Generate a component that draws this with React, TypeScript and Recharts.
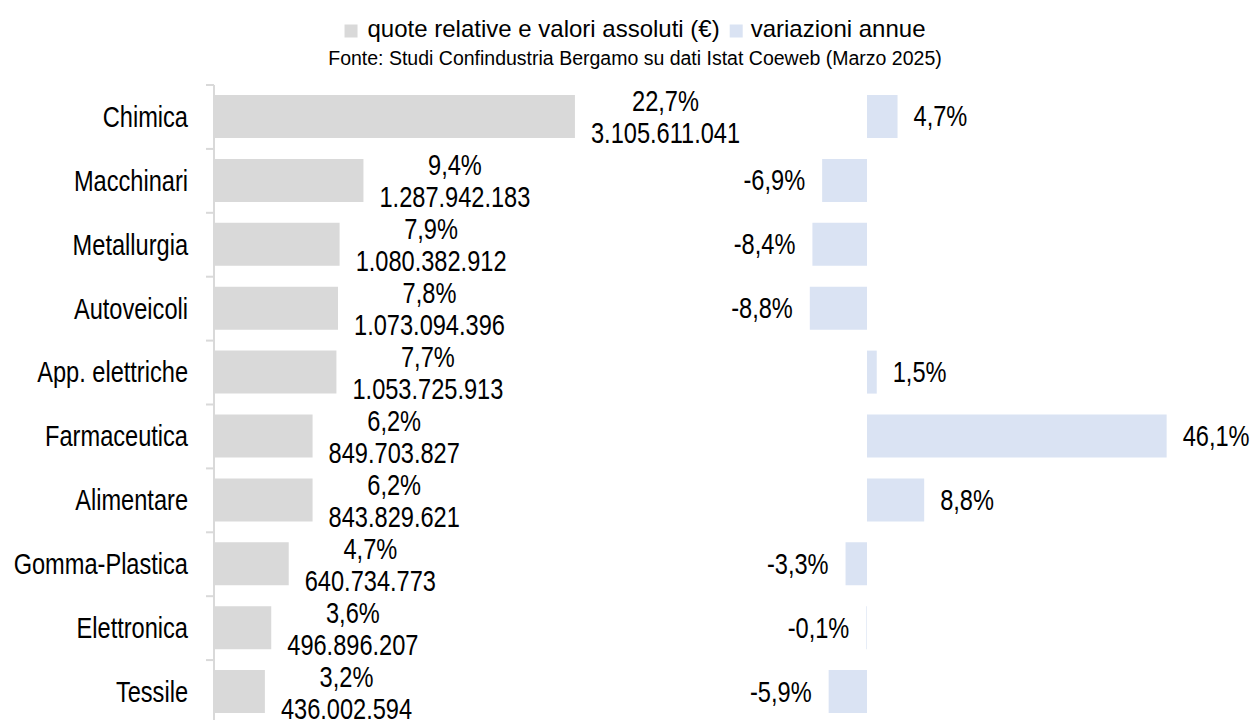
import React from 'react';
import { BarChart, Bar, XAxis, YAxis, LabelList } from 'recharts';

// settori e valori (export Bergamo)
const categories = [
  'Chimica', 'Macchinari', 'Metallurgia', 'Autoveicoli', 'App. elettriche',
  'Farmaceutica', 'Alimentare', 'Gomma-Plastica', 'Elettronica', 'Tessile',
];
const quote = [22.7, 9.4, 7.9, 7.8, 7.7, 6.2, 6.2, 4.7, 3.6, 3.2];
const valori = [
  3105611041, 1287942183, 1080382912, 1073094396, 1053725913,
  849703827, 843829621, 640734773, 496896207, 436002594,
];
const variazioni = [4.7, -6.9, -8.4, -8.8, 1.5, 46.1, 8.8, -3.3, -0.1, -5.9];
const seriesNames = ['quote relative e valori assoluti (€)', 'variazioni annue'];
const source = 'Fonte: Studi Confindustria Bergamo su dati Istat Coeweb (Marzo 2025)';

// no Arial Narrow available: Liberation Sans squeezed horizontally
const FONT = '"Liberation Sans", Arial, sans-serif';
const NARROW = 0.8;
const FS = 29.5;
const GREY = '#d9d9d9';
const BLUE = '#dae3f3';
const W = 1253;
const H = 730;
const MARGIN_TOP = 85;
const MARGIN_BOTTOM = 6;
const HALF_BAND = (H - MARGIN_TOP - MARGIN_BOTTOM) / categories.length / 2;
const HEAD_CX = 635;

const fmtPct = (v: number) => v.toFixed(1).replace('.', ',') + '%';
const fmtInt = (v: number) => String(v).replace(/\B(?=(\d{3})+(?!\d))/g, '.');

const data = categories.map((c, i) => ({
  name: c,
  quota: quote[i],
  variazione: variazioni[i],
  label: fmtPct(quote[i]) + '|' + fmtInt(valori[i]),
}));

let ctx: CanvasRenderingContext2D | null = null;
const measure = (t: string, size: number, k = 1) => {
  if (!ctx) ctx = document.createElement('canvas').getContext('2d');
  if (!ctx) return t.length * size * 0.5 * k;
  ctx.font = `${size}px ${FONT}`;
  return ctx.measureText(t).width * k;
};

const NText = ({ x, y, anchor, children }: any) => (
  <text
    transform={`translate(${x},${y}) scale(${NARROW},1)`}
    textAnchor={anchor}
    dominantBaseline="central"
    fontSize={FS}
    fill="#000"
  >
    {children}
  </text>
);

const CategoryTick = (props: any) => {
  const { x, y, payload } = props;
  return (
    <g>
      <line x1={x + 18} x2={x + 26} y1={y - HALF_BAND} y2={y - HALF_BAND} stroke={GREY} strokeWidth={2} />
      <NText x={x} y={y} anchor="end">{payload.value}</NText>
    </g>
  );
};

const QuotaLabel = (props: any) => {
  const { x, y, width, height, value } = props;
  const [pct, abs] = String(value).split('|');
  const cy = y + height / 2;
  const cx = x + width + 16 + measure(abs, FS, NARROW) / 2;
  return (
    <g>
      <NText x={cx} y={cy - 15} anchor="middle">{pct}</NText>
      <NText x={cx} y={cy + 17} anchor="middle">{abs}</NText>
    </g>
  );
};

const VarLabel = (props: any) => {
  const { x, y, width, height, value } = props;
  const left = Math.min(x, x + width);
  const right = Math.max(x, x + width);
  const neg = value < 0;
  return (
    <NText x={neg ? left - 17 : right + 16} y={y + height / 2} anchor={neg ? 'end' : 'start'}>
      {fmtPct(value)}
    </NText>
  );
};

function Header() {
  const lfs = 24;
  const sq = 13;
  const w1 = measure(seriesNames[0], lfs);
  const w2 = measure(seriesNames[1], lfs);
  const total = sq + 10 + w1 + 10 + sq + 8 + w2;
  const x0 = HEAD_CX - total / 2;
  const x1 = x0 + sq + 10;
  const x2 = x1 + w1 + 10;
  const x3 = x2 + sq + 8;
  return (
    <svg width={W} height={80} style={{ position: 'absolute', top: 0, left: 0 }}>
      <rect x={x0} y={24.5} width={sq} height={sq} fill={GREY} />
      <text x={x1} y={37} fontSize={lfs} fill="#000">{seriesNames[0]}</text>
      <rect x={x2} y={24.5} width={sq} height={sq} fill={BLUE} />
      <text x={x3} y={37} fontSize={lfs} fill="#000">{seriesNames[1]}</text>
      <text x={HEAD_CX} y={65} fontSize={19.5} textAnchor="middle" fill="#000">{source}</text>
    </svg>
  );
}

export default function App() {
  return (
    <div style={{ position: 'absolute', top: 0, left: 0, width: W, height: 720, overflow: 'hidden', background: '#fff', fontFamily: FONT }}>
      <Header />

      <div style={{ position: 'absolute', top: 0, left: 0 }}>
        <BarChart width={W} height={H} data={data} layout="vertical"
          margin={{ top: MARGIN_TOP, right: W - 850, bottom: MARGIN_BOTTOM, left: 0 }}>
          <XAxis type="number" domain={[0, 40]} hide />
          <YAxis type="category" dataKey="name" width={214} tickSize={0} tickMargin={26} tickLine={false}
            axisLine={{ stroke: GREY, strokeWidth: 2 }} tick={<CategoryTick />} interval={0} />
          <Bar dataKey="quota" fill={GREY} barSize={43} isAnimationActive={false}>
            <LabelList dataKey="label" content={<QuotaLabel />} />
          </Bar>
        </BarChart>
      </div>

      <div style={{ position: 'absolute', top: 0, left: 0 }}>
        <BarChart width={W} height={H} data={data} layout="vertical"
          margin={{ top: MARGIN_TOP, right: 61, bottom: MARGIN_BOTTOM, left: 802 }}>
          <XAxis type="number" domain={[-10, 50]} hide />
          <YAxis type="category" dataKey="name" hide />
          <Bar dataKey="variazione" fill={BLUE} barSize={43} isAnimationActive={false}>
            <LabelList dataKey="variazione" content={<VarLabel />} />
          </Bar>
        </BarChart>
      </div>
    </div>
  );
}
